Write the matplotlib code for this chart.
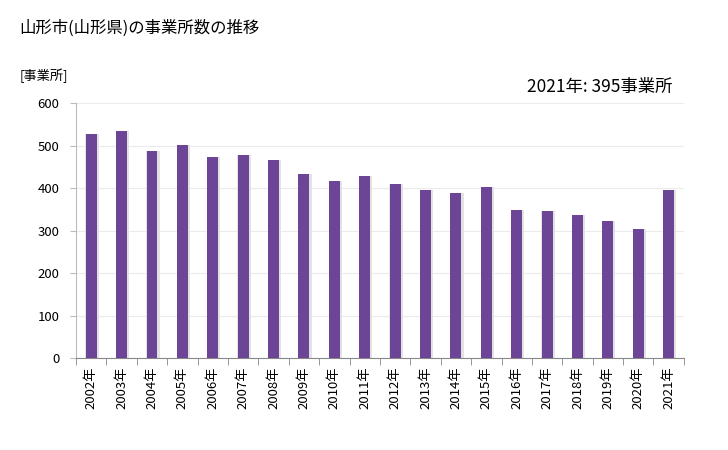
import matplotlib.pyplot as plt
import numpy as np

plt.rcParams['font.family'] = ['Noto Sans CJK JP', 'DejaVu Sans']

years = ["2002年", "2003年", "2004年", "2005年", "2006年", "2007年", "2008年",
         "2009年", "2010年", "2011年", "2012年", "2013年", "2014年", "2015年",
         "2016年", "2017年", "2018年", "2019年", "2020年", "2021年"]
counts = [528, 535, 488, 502, 473, 478, 466, 433, 417, 429,
          410, 396, 388, 403, 348, 346, 337, 322, 303, 395]

fig = plt.figure(figsize=(7.28, 4.5), dpi=100)
ax = fig.add_axes([0.1044, 0.2044, 0.835, 0.5667])

x = np.arange(len(years))
# soft shadow behind each bar
ax.bar(x + 0.03, counts, width=0.44, color='#e2e2e2', zorder=2)
ax.bar(x, counts, width=0.36, color='#6d4596', zorder=3)

ax.set_xlim(-0.5, len(years) - 0.5)
ax.set_ylim(0, 600)
ax.set_yticks(range(0, 601, 100))
ax.set_xticks(x)
ax.set_xticklabels(years, rotation=90, fontsize=9.5)
ax.set_xticks(np.arange(-0.5, len(years), 1), minor=True)
ax.tick_params(axis='x', which='major', length=0, pad=6)
ax.tick_params(axis='x', which='minor', length=5, color='#888888')
ax.tick_params(axis='y', length=4, color='#bbbbbb', labelsize=9.5, pad=8)

ax.grid(axis='y', color='#ebebeb', linewidth=0.8, zorder=0)
for s in ['top', 'right']:
    ax.spines[s].set_visible(False)
ax.spines['left'].set_color('#bbbbbb')
ax.spines['bottom'].set_color('#888888')

fig.text(0.027, 0.938, "山形市(山形県)の事業所数の推移", fontsize=11.8, va='center')
fig.text(0.027, 0.832, "[事業所]", fontsize=9.5, va='center')
fig.text(0.924, 0.807, "2021年: 395事業所", fontsize=12.5, va='center', ha='right')

fig.savefig("out.png", dpi=100)
